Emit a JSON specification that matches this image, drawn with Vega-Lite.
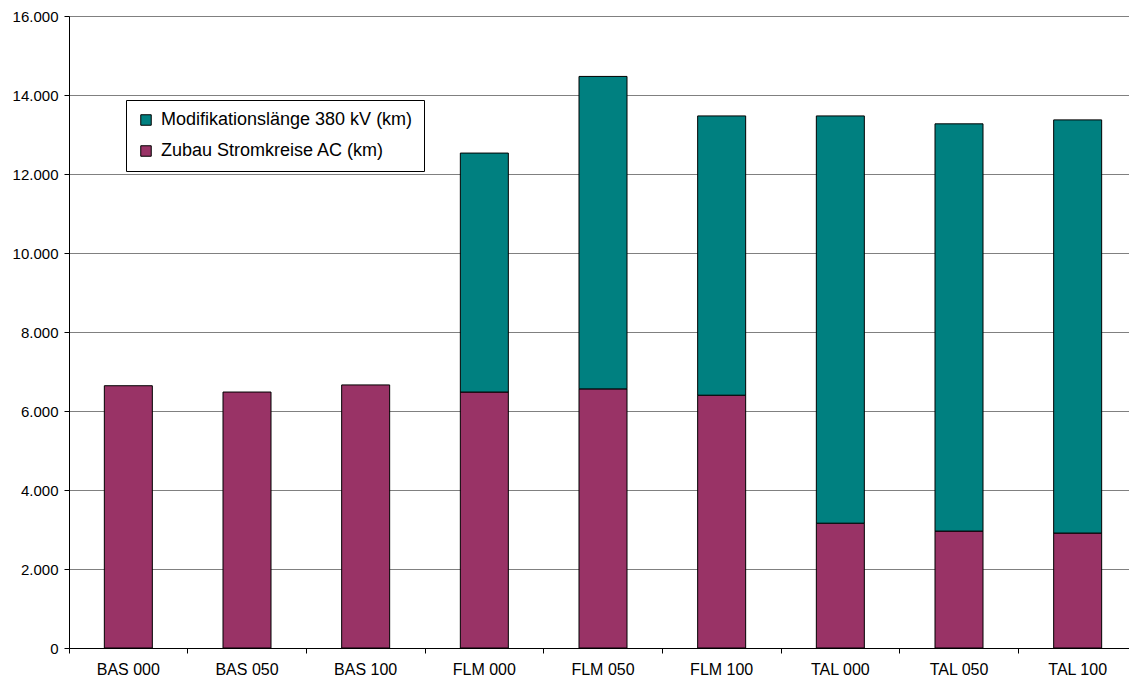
{
  "$schema": "https://vega.github.io/schema/vega-lite/v6.json",
  "width": 1068,
  "height": 632,
  "autosize": {"type": "none"},
  "padding": {"left": 69, "top": 16, "right": 0, "bottom": 33},
  "background": "white",
  "data": {"values": [
    {"scenario": "BAS 000", "series": "Zubau Stromkreise AC (km)", "km": 6640},
    {"scenario": "BAS 050", "series": "Zubau Stromkreise AC (km)", "km": 6480},
    {"scenario": "BAS 100", "series": "Zubau Stromkreise AC (km)", "km": 6660},
    {"scenario": "FLM 000", "series": "Zubau Stromkreise AC (km)", "km": 6480},
    {"scenario": "FLM 050", "series": "Zubau Stromkreise AC (km)", "km": 6560},
    {"scenario": "FLM 100", "series": "Zubau Stromkreise AC (km)", "km": 6400},
    {"scenario": "TAL 000", "series": "Zubau Stromkreise AC (km)", "km": 3160},
    {"scenario": "TAL 050", "series": "Zubau Stromkreise AC (km)", "km": 2960},
    {"scenario": "TAL 100", "series": "Zubau Stromkreise AC (km)", "km": 2910},
    {"scenario": "FLM 000", "series": "Modifikationslänge 380 kV (km)", "km": 6050},
    {"scenario": "FLM 050", "series": "Modifikationslänge 380 kV (km)", "km": 7910},
    {"scenario": "FLM 100", "series": "Modifikationslänge 380 kV (km)", "km": 7070},
    {"scenario": "TAL 000", "series": "Modifikationslänge 380 kV (km)", "km": 10310},
    {"scenario": "TAL 050", "series": "Modifikationslänge 380 kV (km)", "km": 10310},
    {"scenario": "TAL 100", "series": "Modifikationslänge 380 kV (km)", "km": 10460}
  ]},
  "mark": {"type": "bar", "width": 48, "stroke": "black", "strokeWidth": 1},
  "encoding": {
    "x": {
      "field": "scenario", "type": "nominal", "sort": null,
      "scale": {"paddingInner": 0, "paddingOuter": 0},
      "axis": {
        "title": null, "labelAngle": 0, "bandPosition": 0,
        "labelFont": "Liberation Sans", "labelFontSize": 16, "labelColor": "black",
        "labelPadding": 8, "tickSize": 5, "tickColor": "black", "domainColor": "black",
        "grid": false
      }
    },
    "y": {
      "field": "km", "type": "quantitative", "stack": "zero",
      "scale": {"domain": [0, 16000], "nice": false},
      "axis": {
        "title": null, "values": [0, 2000, 4000, 6000, 8000, 10000, 12000, 14000, 16000],
        "labelExpr": "replace(format(datum.value, ','), ',', '.')",
        "labelFont": "Liberation Sans", "labelFontSize": 15, "labelColor": "black",
        "labelPadding": 6, "tickSize": 5, "tickColor": "black", "domainColor": "black",
        "grid": true, "gridColor": "#808080", "gridWidth": 1
      }
    },
    "color": {
      "field": "series", "type": "nominal",
      "scale": {"domain": ["Modifikationslänge 380 kV (km)", "Zubau Stromkreise AC (km)"], "range": ["#008080", "#993366"]},
      "legend": {
        "title": null, "orient": "none", "legendX": 57, "legendY": 84,
        "symbolType": "square", "symbolSize": 110, "symbolStrokeColor": "black", "symbolStrokeWidth": 1,
        "labelFont": "Liberation Sans", "labelFontSize": 18, "labelColor": "black", "labelLimit": 0,
        "strokeColor": "black", "fillColor": "white", "padding": 11, "rowPadding": 13,
        "labelOffset": 6, "symbolOffset": 0
      }
    },
    "order": {"field": "series", "sort": "descending"}
  },
  "config": {"view": {"stroke": null}}
}
